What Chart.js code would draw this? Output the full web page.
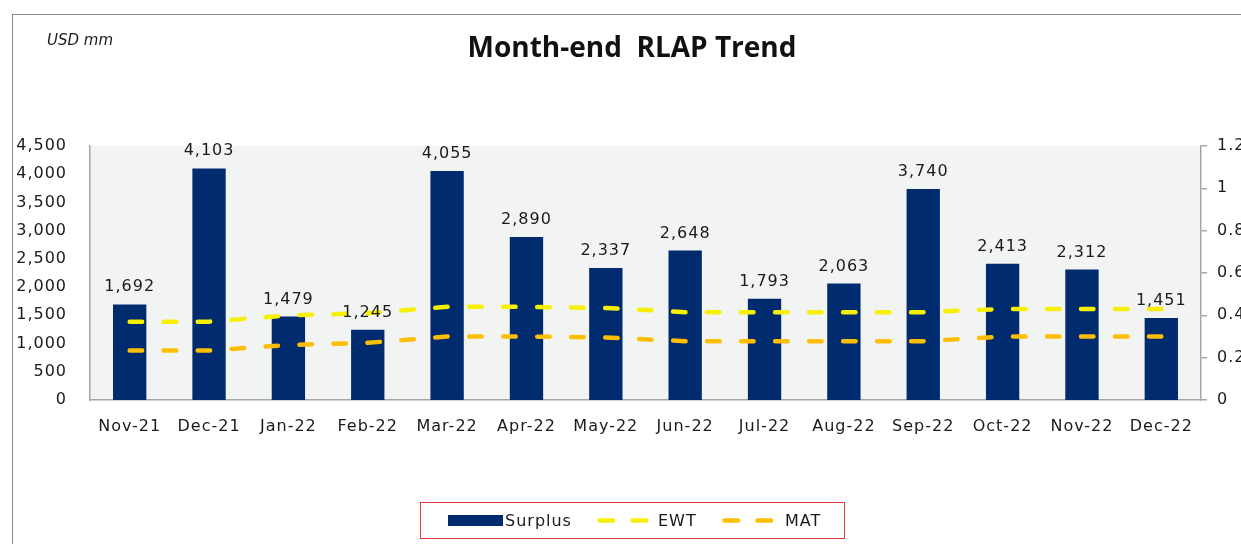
<!DOCTYPE html>
<html>
<head>
<meta charset="utf-8">
<script src="https://cdn.jsdelivr.net/npm/chart.js@4.4.0/dist/chart.umd.min.js"></script>
<style>
  html, body { margin: 0; padding: 0; background: #ffffff; }
  #wrap { position: relative; width: 1241px; height: 544px; overflow: hidden; background: #fff; }
  #frame { position: absolute; left: 12px; top: 14px; width: 1300px; height: 600px; border-left: 1.5px solid #8c8c8c; border-top: 1.5px solid #8c8c8c; }
  canvas { position: absolute; left: 0; top: 0; }
  #title { position: absolute; left: 0; width: 1264px; top: 27px; text-align: center; font-family: "Open Sans", sans-serif; font-weight: bold; font-size: 28px; color: #111; white-space: pre; }
  #unit { position: absolute; left: 47px; top: 31px; font-family: "DejaVu Sans", sans-serif; font-style: italic; font-size: 15px; color: #1a1a1a; }
  #legend { position: absolute; left: 420px; top: 502px; width: 425px; height: 37px; border: 1.5px solid #e23b3b; box-sizing: border-box; font-family: "DejaVu Sans", sans-serif; font-size: 16px; letter-spacing: 1px; color: #1a1a1a; }
  .item { position: absolute; top: 0; height: 35px; line-height: 35px; white-space: nowrap; }
  .item svg { position: absolute; top: 12px; }
  .item span { position: absolute; top: 0; }
</style>
</head>
<body>
<div id="wrap">
  <canvas id="c" width="1241" height="544"></canvas>
  <div id="frame"></div>
  <div id="unit">USD mm</div>
  <div id="title">Month-end  RLAP Trend</div>
  <div id="legend"></div>
</div>
<script>
const categories = ["Nov-21","Dec-21","Jan-22","Feb-22","Mar-22","Apr-22","May-22","Jun-22","Jul-22","Aug-22","Sep-22","Oct-22","Nov-22","Dec-22"];
const surplus = [1692, 4103, 1479, 1245, 4055, 2890, 2337, 2648, 1793, 2063, 3740, 2413, 2312, 1451];
const ewt = [0.37, 0.37, 0.40, 0.41, 0.44, 0.44, 0.435, 0.415, 0.415, 0.415, 0.415, 0.43, 0.43, 0.43];
const mat = [0.234, 0.234, 0.26, 0.27, 0.30, 0.30, 0.295, 0.278, 0.278, 0.278, 0.278, 0.30, 0.30, 0.30];
const leftTicks = [0, 500, 1000, 1500, 2000, 2500, 3000, 3500, 4000, 4500];
const rightTicks = [0, 0.2, 0.4, 0.6, 0.8, 1, 1.2];

const NAVY = "#002b6e", YELLOW = "#f7f000", GOLD = "#ffbf00", AXIS = "#a6a6a6";
const TICKFONT = { family: "DejaVu Sans", size: 16 };

const plotBg = {
  id: "plotBg",
  beforeDraw(chart) {
    const { ctx, chartArea: a } = chart;
    ctx.save();
    ctx.fillStyle = "#f2f3f3";
    ctx.fillRect(a.left, a.top, a.right - a.left, a.bottom - a.top);
    ctx.restore();
    ctx.letterSpacing = "1px";
  },
  afterDraw(chart) {
    chart.ctx.letterSpacing = "0px";
  }
};

const valueLabels = {
  id: "valueLabels",
  afterDatasetsDraw(chart) {
    const { ctx } = chart;
    const meta = chart.getDatasetMeta(2);
    ctx.save();
    ctx.letterSpacing = "1px";
    ctx.font = "16px 'DejaVu Sans'";
    ctx.fillStyle = "#1a1a1a";
    ctx.textAlign = "center";
    ctx.textBaseline = "alphabetic";
    meta.data.forEach((bar, i) => {
      ctx.fillText(surplus[i].toLocaleString("en-US"), bar.x, bar.y - 13);
    });
    ctx.restore();
  }
};

const chart = new Chart(document.getElementById("c"), {
  data: {
    labels: categories,
    datasets: [
      { type: "line", label: "EWT", data: ewt, yAxisID: "y1", borderColor: YELLOW, backgroundColor: YELLOW,
        borderWidth: 4.5, borderDash: [12.5, 21.5], borderCapStyle: "round", pointRadius: 0, tension: 0, order: 1 },
      { type: "line", label: "MAT", data: mat, yAxisID: "y1", borderColor: GOLD, backgroundColor: GOLD,
        borderWidth: 4.5, borderDash: [12.5, 21.5], borderCapStyle: "round", pointRadius: 0, tension: 0, order: 1 },
      { type: "bar", label: "Surplus", data: surplus, yAxisID: "y", backgroundColor: NAVY, borderWidth: 0,
        barPercentage: 0.42, categoryPercentage: 1, order: 2 }
    ]
  },
  options: {
    responsive: false,
    animation: false,
    devicePixelRatio: 1,
    layout: { padding: { top: 146, bottom: 0, left: 0, right: 0 } },
    plugins: { legend: { display: false }, title: { display: false }, tooltip: { enabled: false } },
    scales: {
      x: {
        grid: { display: false, drawTicks: false },
        border: { display: true, color: AXIS, width: 1.5 },
        ticks: { font: TICKFONT, color: "#1a1a1a", padding: 17, maxRotation: 0, autoSkip: false },
        afterFit(s) { s.height = 144; }
      },
      y: {
        position: "left", min: 0, max: 4500,
        afterBuildTicks(s) { s.ticks = leftTicks.map(v => ({ value: v })); },
        grid: { display: false, drawTicks: false },
        border: { display: true, color: AXIS, width: 1.5 },
        ticks: { font: TICKFONT, color: "#1a1a1a", padding: 23, callback: v => v.toLocaleString("en-US") },
        afterFit(s) { s.width = 90; }
      },
      y1: {
        position: "right", min: 0, max: 1.2,
        afterBuildTicks(s) { s.ticks = rightTicks.map(v => ({ value: v })); },
        grid: { display: true, drawOnChartArea: false, drawTicks: true, tickLength: 6, color: AXIS, lineWidth: 1.5 },
        border: { display: true, color: AXIS, width: 1.5 },
        ticks: { font: TICKFONT, color: "#1a1a1a", padding: 10, callback: v => String(Math.round(v * 10) / 10) },
        afterFit(s) { s.width = 40; }
      }
    }
  },
  plugins: [plotBg, valueLabels]
});

// HTML legend built from datasets
const legend = document.getElementById("legend");
const items = [
  { ds: chart.data.datasets[2], sw: 27, tx: 84, kind: "bar" },
  { ds: chart.data.datasets[0], sw: 176, tx: 237, kind: "line" },
  { ds: chart.data.datasets[1], sw: 301, tx: 364, kind: "line" }
];
items.forEach(it => {
  const d = document.createElement("div");
  d.className = "item";
  d.style.left = "0px";
  let svg;
  if (it.kind === "bar") {
    svg = `<svg width="55" height="11" style="left:${it.sw}px;top:12px"><rect x="0" y="0" width="55" height="11" fill="${it.ds.backgroundColor}"/></svg>`;
  } else {
    svg = `<svg width="54" height="11" style="left:${it.sw}px;top:12px"><line x1="2.5" y1="5.5" x2="50" y2="5.5" stroke="${it.ds.borderColor}" stroke-width="4.5" stroke-linecap="round" stroke-dasharray="13.5 19.5"/></svg>`;
  }
  d.innerHTML = svg + `<span style="left:${it.tx}px">${it.ds.label}</span>`;
  legend.appendChild(d);
});
</script>
</body>
</html>
